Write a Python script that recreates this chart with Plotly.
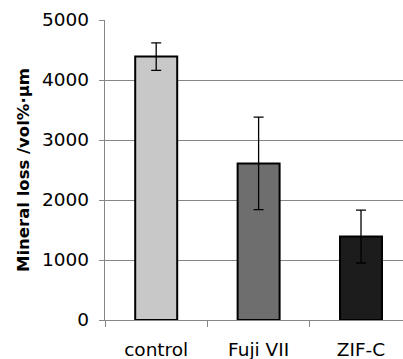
import plotly.graph_objects as go

categories = ["control", "Fuji VII", "ZIF-C"]
values = [4390, 2610, 1390]
errors = [230, 770, 440]
bar_colors = ["#c8c8c8", "#6e6e6e", "#1c1c1c"]
y_ticks = [0, 1000, 2000, 3000, 4000, 5000]

font_family = "Verdana, DejaVu Sans, sans-serif"

fig = go.Figure()
fig.add_trace(go.Bar(
    x=categories,
    y=values,
    width=0.41,
    marker=dict(color=bar_colors, line=dict(color="#000000", width=2)),
    error_y=dict(type="data", array=errors, visible=True, color="#000000",
                 thickness=1.3, width=5),
))

fig.update_layout(
    width=403, height=359,
    margin=dict(l=105, r=0, t=20, b=39),
    paper_bgcolor="white", plot_bgcolor="white",
    showlegend=False,
    font=dict(family=font_family, size=17, color="#000000"),
    xaxis=dict(
        type="category",
        range=[-0.5, 2.41],
        tickson="boundaries",
        ticks="outside", ticklen=6, tickcolor="#868686", tickwidth=1.3,
        showline=True, linecolor="#868686", linewidth=1.3,
        showgrid=False,
        tickfont=dict(size=18.5),
        ticklabelstandoff=13,
    ),
    yaxis=dict(
        range=[0, 5000],
        tickvals=y_ticks,
        ticks="outside", ticklen=5, tickcolor="#868686", tickwidth=1.3,
        showline=True, linecolor="#868686", linewidth=1.3,
        showgrid=True, gridcolor="#868686", gridwidth=1.3,
        zeroline=False,
        tickfont=dict(size=18.5),
        ticklabelstandoff=6,
        title=dict(text="<b>Mineral loss /vol%·µm</b>", font=dict(size=16.5), standoff=8),
    ),
)

fig.write_html("out.html")
